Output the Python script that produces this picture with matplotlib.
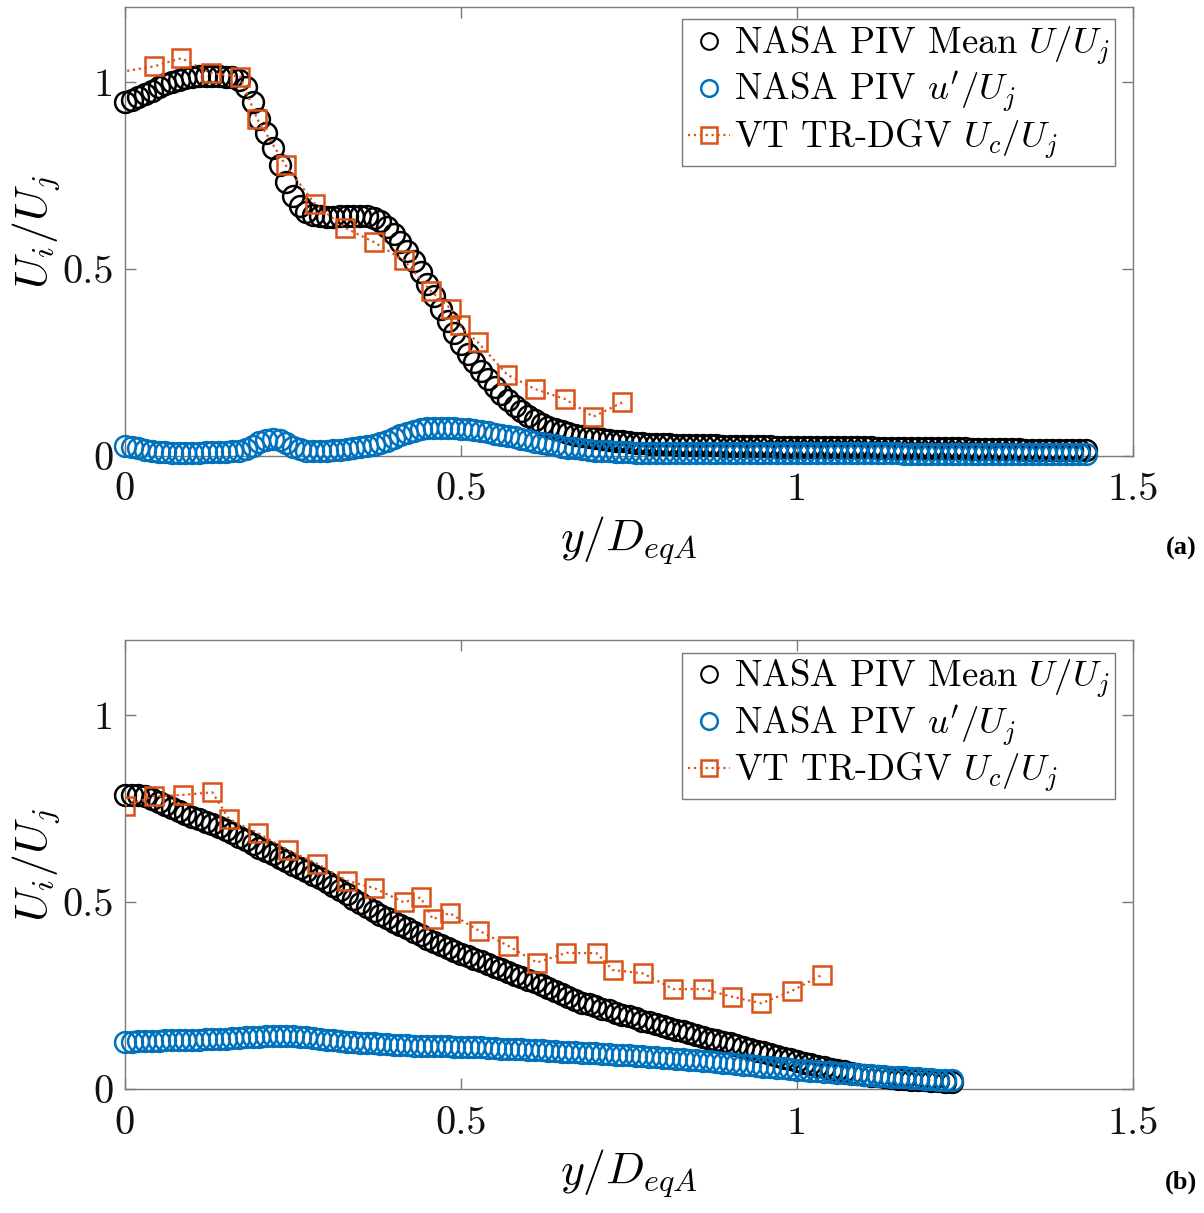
import numpy as np
import matplotlib
matplotlib.use("Agg")
import matplotlib.pyplot as plt
from matplotlib.ticker import FuncFormatter
from matplotlib.lines import Line2D
from matplotlib.font_manager import FontProperties

plt.rcParams["font.family"] = ["cmr10"]
plt.rcParams["mathtext.fontset"] = "cm"
plt.rcParams["axes.formatter.use_mathtext"] = True

black = "#000000"
blue = "#0072BD"
orange = "#D95319"
edge_gray = "#7a7a7a"

# PIV profiles are sampled every 0.01 y/D_eqA
y_step = 0.01

# ---- (a) ----
mean_a = [
    0.945, 0.950, 0.958, 0.967, 0.976, 0.985, 0.993, 1.000, 1.006, 1.010,
    1.013, 1.015, 1.016, 1.016, 1.015, 1.014, 1.012, 1.005, 0.985, 0.945,
    0.900, 0.862, 0.822, 0.778, 0.733, 0.695, 0.668, 0.651, 0.643, 0.640,
    0.639, 0.639, 0.640, 0.641, 0.642, 0.642, 0.641, 0.636, 0.627, 0.612,
    0.594, 0.572, 0.548, 0.520, 0.491, 0.460, 0.427, 0.393, 0.360, 0.328,
    0.300, 0.273, 0.250, 0.228, 0.206, 0.185, 0.166, 0.149, 0.134, 0.120,
    0.107, 0.096, 0.086, 0.078, 0.072, 0.066, 0.061, 0.057, 0.053, 0.050,
    0.047, 0.045, 0.043, 0.041, 0.039, 0.037, 0.035, 0.034, 0.033, 0.032,
    0.031, 0.031, 0.030, 0.030, 0.029, 0.029, 0.028, 0.028, 0.028, 0.027,
    0.027, 0.027, 0.027, 0.026, 0.026, 0.026, 0.026, 0.025, 0.025, 0.025,
    0.025, 0.025, 0.024, 0.024, 0.024, 0.024, 0.024, 0.023, 0.023, 0.023,
    0.023, 0.023, 0.022, 0.022, 0.022, 0.022, 0.022, 0.021, 0.021, 0.021,
    0.021, 0.021, 0.020, 0.020, 0.020, 0.020, 0.019, 0.019, 0.019, 0.019,
    0.018, 0.018, 0.018, 0.018, 0.017, 0.017, 0.017, 0.017, 0.016, 0.016,
    0.016, 0.016, 0.015, 0.015,
]
rms_a = [
    0.027, 0.024, 0.020, 0.016, 0.013, 0.011, 0.010, 0.009, 0.009, 0.009,
    0.009, 0.009, 0.010, 0.010, 0.010, 0.011, 0.012, 0.014, 0.018, 0.026,
    0.036, 0.043, 0.045, 0.042, 0.034, 0.025, 0.018, 0.014, 0.013, 0.013,
    0.014, 0.015, 0.016, 0.018, 0.020, 0.023, 0.026, 0.030, 0.034, 0.040,
    0.047, 0.055, 0.062, 0.068, 0.072, 0.074, 0.075, 0.075, 0.075, 0.074,
    0.073, 0.071, 0.069, 0.066, 0.063, 0.060, 0.057, 0.054, 0.050, 0.046,
    0.042, 0.038, 0.034, 0.031, 0.028, 0.025, 0.022, 0.020, 0.018, 0.016,
    0.014, 0.013, 0.012, 0.011, 0.010, 0.010, 0.009, 0.009, 0.009, 0.009,
    0.009, 0.009, 0.009, 0.009, 0.008, 0.008, 0.008, 0.008, 0.008, 0.008,
    0.008, 0.008, 0.008, 0.008, 0.008, 0.008, 0.008, 0.008, 0.008, 0.007,
    0.007, 0.007, 0.007, 0.007, 0.007, 0.007, 0.007, 0.007, 0.007, 0.007,
    0.007, 0.007, 0.007, 0.007, 0.007, 0.007, 0.006, 0.006, 0.006, 0.006,
    0.006, 0.006, 0.006, 0.006, 0.006, 0.006, 0.006, 0.006, 0.006, 0.006,
    0.006, 0.006, 0.006, 0.006, 0.006, 0.006, 0.005, 0.005, 0.005, 0.005,
    0.005, 0.005, 0.005, 0.005,
]
dgv_y_a = [-0.040, 0.043, 0.084, 0.128, 0.171, 0.197, 0.239, 0.283, 0.327, 0.370,
           0.415, 0.455, 0.485, 0.498, 0.525, 0.569, 0.610, 0.655, 0.697, 0.740]
dgv_u_a = [1.016, 1.041, 1.063, 1.023, 1.014, 0.900, 0.777, 0.673, 0.610, 0.572,
           0.523, 0.441, 0.393, 0.349, 0.304, 0.217, 0.179, 0.152, 0.105, 0.143]

# ---- (b) ----
mean_b = [
    0.786, 0.787, 0.786, 0.782, 0.776, 0.768, 0.759, 0.751, 0.743, 0.736,
    0.728, 0.721, 0.714, 0.707, 0.699, 0.691, 0.683, 0.674, 0.665, 0.655,
    0.645, 0.636, 0.627, 0.618, 0.609, 0.600, 0.591, 0.582, 0.572, 0.563,
    0.553, 0.543, 0.532, 0.521, 0.509, 0.497, 0.486, 0.476, 0.466, 0.456,
    0.447, 0.438, 0.429, 0.420, 0.411, 0.402, 0.393, 0.385, 0.377, 0.369,
    0.362, 0.355, 0.348, 0.341, 0.334, 0.327, 0.320, 0.313, 0.306, 0.299,
    0.292, 0.285, 0.278, 0.270, 0.262, 0.254, 0.246, 0.238, 0.231, 0.226,
    0.221, 0.215, 0.210, 0.204, 0.199, 0.194, 0.189, 0.183, 0.178, 0.173,
    0.168, 0.163, 0.158, 0.154, 0.149, 0.145, 0.140, 0.135, 0.131, 0.126,
    0.122, 0.117, 0.112, 0.107, 0.102, 0.098, 0.093, 0.088, 0.083, 0.079,
    0.074, 0.070, 0.066, 0.062, 0.058, 0.054, 0.051, 0.047, 0.044, 0.041,
    0.038, 0.036, 0.034, 0.032, 0.030, 0.028, 0.026, 0.025, 0.024, 0.023,
    0.022, 0.021, 0.020, 0.019,
]
rms_b = [
    0.127, 0.127, 0.128, 0.128, 0.129, 0.129, 0.130, 0.130, 0.131, 0.131,
    0.132, 0.132, 0.133, 0.133, 0.134, 0.135, 0.136, 0.137, 0.138, 0.139,
    0.140, 0.141, 0.142, 0.142, 0.142, 0.141, 0.140, 0.138, 0.136, 0.134,
    0.132, 0.130, 0.128, 0.126, 0.125, 0.124, 0.123, 0.122, 0.121, 0.120,
    0.119, 0.118, 0.117, 0.116, 0.116, 0.115, 0.115, 0.114, 0.114, 0.113,
    0.113, 0.112, 0.112, 0.111, 0.110, 0.109, 0.108, 0.108, 0.107, 0.106,
    0.105, 0.104, 0.103, 0.102, 0.101, 0.100, 0.099, 0.098, 0.097, 0.096,
    0.095, 0.094, 0.093, 0.092, 0.091, 0.090, 0.088, 0.087, 0.086, 0.085,
    0.083, 0.082, 0.081, 0.080, 0.078, 0.077, 0.075, 0.074, 0.072, 0.070,
    0.069, 0.067, 0.065, 0.063, 0.062, 0.060, 0.058, 0.056, 0.055, 0.053,
    0.052, 0.050, 0.049, 0.047, 0.046, 0.045, 0.043, 0.042, 0.041, 0.039,
    0.038, 0.037, 0.036, 0.035, 0.033, 0.032, 0.031, 0.030, 0.029, 0.028,
    0.026, 0.025, 0.024, 0.023,
]
dgv_y_b = [0.000, 0.043, 0.087, 0.130, 0.155, 0.198, 0.242, 0.286, 0.330, 0.371,
           0.415, 0.440, 0.458, 0.483, 0.527, 0.570, 0.613, 0.657, 0.702, 0.726,
           0.771, 0.816, 0.860, 0.903, 0.947, 0.992, 1.037]
dgv_u_b = [0.757, 0.782, 0.786, 0.793, 0.721, 0.684, 0.639, 0.602, 0.557, 0.537,
           0.499, 0.512, 0.454, 0.470, 0.423, 0.383, 0.338, 0.364, 0.363, 0.318,
           0.309, 0.267, 0.267, 0.247, 0.229, 0.262, 0.305]

labels = [r"NASA PIV Mean $U/U_j$", r"NASA PIV $u'/U_j$", r"VT TR-DGV $U_c/U_j$"]
xticks = [0, 0.5, 1, 1.5]
yticks = [0, 0.5, 1]

fig = plt.figure(figsize=(12.04, 12.13), dpi=100)
ax_a = fig.add_axes([0.1038, 0.6241, 0.8372, 0.3702])
ax_b = fig.add_axes([0.1038, 0.1022, 0.8372, 0.3702])

tag_font = FontProperties(family=["Liberation Serif", "DejaVu Serif"], weight="bold", size=19)


def draw_panel(ax, mean, rms, dgv_y, dgv_u, tag):
    y_mean = np.arange(len(mean)) * y_step
    y_rms = np.arange(len(rms)) * y_step
    ax.plot(y_mean, mean, "o", ms=15, mfc="none", mec=black, mew=1.8, clip_on=False, zorder=3)
    ax.plot(y_rms, rms, "o", ms=15, mfc="none", mec=blue, mew=1.8, clip_on=False, zorder=4)
    ax.plot(dgv_y, dgv_u, ":s", color=orange, lw=1.6, ms=13, mfc="none", mec=orange, mew=1.8, zorder=5)

    ax.set_xlim(0, 1.5)
    ax.set_ylim(0, 1.2)
    ax.set_xticks(xticks)
    ax.set_yticks(yticks)
    fmt = FuncFormatter(lambda v, p: "%g" % v)
    ax.xaxis.set_major_formatter(fmt)
    ax.yaxis.set_major_formatter(fmt)
    ax.tick_params(direction="in", length=8, width=1, colors=edge_gray, labelcolor="#111111",
                   labelsize=29, top=True, right=True)
    ax.tick_params(axis="x", pad=12)
    ax.tick_params(axis="y", pad=8)
    for s in ax.spines.values():
        s.set_color(edge_gray)
        s.set_linewidth(1)
    ax.set_xlabel(r"$y/D_{eqA}$", fontsize=33, labelpad=4)
    ax.set_ylabel(r"$U_i/U_j$", fontsize=33, labelpad=0)

    handles = [
        Line2D([], [], ls="none", marker="o", ms=12, mfc="none", mec=black, mew=1.5),
        Line2D([], [], ls="none", marker="o", ms=12, mfc="none", mec=blue, mew=1.8),
        Line2D([], [], ls=":", color=orange, lw=1.6, marker="s", ms=12, mfc="none", mec=orange, mew=1.8),
    ]
    leg = ax.legend(handles, labels, loc="upper right", bbox_to_anchor=(0.982, 0.972),
                    borderaxespad=0, fontsize=26.5, frameon=True, fancybox=False,
                    framealpha=1, edgecolor=edge_gray, handlelength=1.15,
                    handletextpad=0.1, labelspacing=0.08, borderpad=0.15)
    leg.get_frame().set_linewidth(1)

    fig.text(0.994, ax.get_position().y0 - 0.0765, tag, ha="right", va="center",
             fontproperties=tag_font)


draw_panel(ax_a, mean_a, rms_a, dgv_y_a, dgv_u_a, "(a)")
draw_panel(ax_b, mean_b, rms_b, dgv_y_b, dgv_u_b, "(b)")

fig.savefig("out.png", dpi=100)
